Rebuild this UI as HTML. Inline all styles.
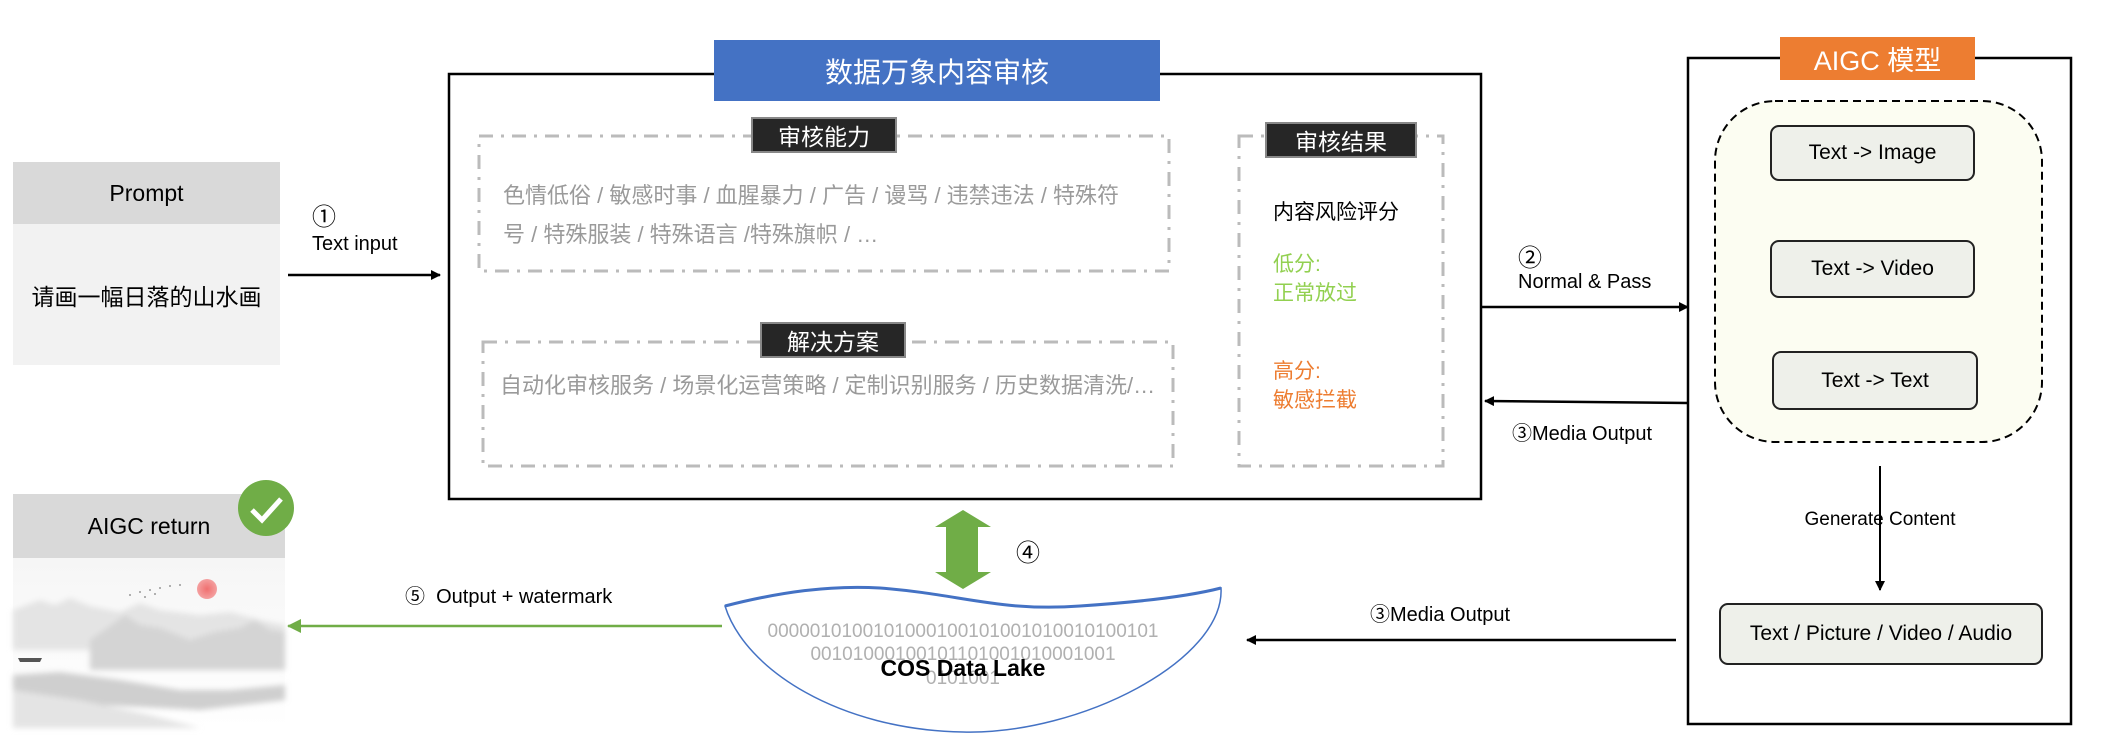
<!DOCTYPE html>
<html><head><meta charset="utf-8"><style>
body{margin:0;width:2102px;height:754px;background:#fff;position:relative;overflow:hidden;font-family:"Liberation Sans","Noto Sans CJK SC",sans-serif;}
.a{position:absolute;}
.c{position:absolute;display:flex;align-items:center;justify-content:center;text-align:center;}
.lbl{background:#262626;color:#fff;border:2px solid #888;font-size:23px;box-sizing:border-box;}
.gt{color:#9a9a9a;font-size:22px;}
.mb{background:#eef0ea;border:2px solid #222;border-radius:9px;font-size:21px;box-sizing:border-box;}
</style></head><body>
<svg class="a" style="left:0;top:0" width="2102" height="754">
<defs>
<marker id="ak" markerWidth="10" markerHeight="10" refX="9" refY="5" orient="auto" markerUnits="userSpaceOnUse"><path d="M0,0 L10,5 L0,10z" fill="#000"/></marker>
<marker id="ag" markerWidth="14" markerHeight="14" refX="13" refY="7" orient="auto" markerUnits="userSpaceOnUse"><path d="M0,0 L14,7 L0,14z" fill="#70ad47"/></marker>
<radialGradient id="sun"><stop offset="0" stop-color="#f07070"/><stop offset="1" stop-color="#f4a0a0"/></radialGradient>
<linearGradient id="fog" x1="0" y1="0" x2="0" y2="1"><stop offset="0" stop-color="#f6f6f6"/><stop offset="1" stop-color="#fff"/></linearGradient>
<filter id="bl"><feGaussianBlur stdDeviation="3"/></filter>
</defs>
<rect x="449" y="74" width="1032" height="425" fill="none" stroke="#000" stroke-width="2.5"/>
<rect x="479" y="136" width="690" height="135" fill="none" stroke="#bbb" stroke-width="3" stroke-dasharray="14 8 3 8"/>
<rect x="483" y="342" width="690" height="124" fill="none" stroke="#bbb" stroke-width="3" stroke-dasharray="14 8 3 8"/>
<rect x="1239" y="136" width="204" height="330" fill="none" stroke="#bbb" stroke-width="3" stroke-dasharray="14 8 3 8"/>
<rect x="1688" y="58" width="383" height="666" fill="none" stroke="#000" stroke-width="2.5"/>
<rect x="1715" y="101" width="327" height="341" rx="60" fill="#fcfdf2" stroke="#000" stroke-width="2" stroke-dasharray="8 5"/>
<line x1="288" y1="275" x2="440" y2="275" stroke="#000" stroke-width="2.5" marker-end="url(#ak)"/>
<line x1="1481" y1="307" x2="1688" y2="307" stroke="#000" stroke-width="2.5" marker-end="url(#ak)"/>
<line x1="1688" y1="403" x2="1485" y2="401" stroke="#000" stroke-width="2.5" marker-end="url(#ak)"/>
<line x1="1880" y1="466" x2="1880" y2="590" stroke="#000" stroke-width="2" marker-end="url(#ak)"/>
<line x1="1676" y1="640" x2="1247" y2="640" stroke="#000" stroke-width="2.5" marker-end="url(#ak)"/>
<line x1="722" y1="626" x2="288" y2="626" stroke="#70ad47" stroke-width="2.5" marker-end="url(#ag)"/>
<path d="M963,510 L991,527 L978,527 L978,572 L991,572 L963,589 L935,572 L946,572 L946,527 L935,527z" fill="#70ad47"/>
<path d="M725,606 C780,592 830,585 880,588 C960,594 1000,612 1080,606 C1140,602 1190,596 1221,588 C1225,660 1080,735 963,732 C840,730 745,670 725,606z" fill="#fff" stroke="#4472c4" stroke-width="1.5"/>
<path d="M725,606 C780,592 830,585 880,588 C960,594 1000,612 1080,606 C1140,602 1190,596 1221,588" fill="none" stroke="#4472c4" stroke-width="3"/>
<rect x="13" y="558" width="272" height="170" fill="url(#fog)"/>
<g filter="url(#bl)">
<path d="M13,610 L40,600 L55,605 L70,598 L90,606 L120,612 L140,603 L160,610 L200,615 L230,612 L260,620 L285,625 L285,650 L13,650z" fill="#e4e4e4"/>
<path d="M90,640 L110,626 L125,615 L140,625 L160,628 L190,640 L215,632 L240,628 L255,620 L270,630 L285,632 L285,670 L90,670z" fill="#d4d4d4"/>
<path d="M13,675 L60,672 L120,680 L180,690 L230,690 L285,685 L285,700 L200,710 L100,705 L13,700z" fill="#cfcfcf"/>
<path d="M13,690 L80,700 L150,715 L200,728 L13,728z" fill="#e4e4e4"/>
</g>
<circle cx="207" cy="589" r="10" fill="url(#sun)"/>
<path d="M18,658 L42,658 L40,662 L20,662z" fill="#555"/>
<g fill="#999"><circle cx="130" cy="595" r="1"/><circle cx="140" cy="592" r="1"/><circle cx="150" cy="590" r="1"/><circle cx="160" cy="588" r="1"/><circle cx="170" cy="586" r="1"/><circle cx="180" cy="585" r="1"/><circle cx="145" cy="597" r="1"/><circle cx="155" cy="594" r="1"/></g>
</svg>

<div class="c" style="left:13px;top:162px;width:267px;height:62px;background:#d9d9d9;font-size:23px;">Prompt</div>
<div class="c" style="left:13px;top:224px;width:267px;height:141px;background:#f2f2f2;font-size:23px;">请画一幅日落的山水画</div>
<div class="a" style="left:312px;top:197px;font-size:24px;">①</div>
<div class="a" style="left:312px;top:233px;font-size:20px;">Text input</div>

<div class="c" style="left:714px;top:40px;width:446px;height:61px;background:#4472c4;color:#fff;font-size:28px;">数据万象内容审核</div>
<div class="c lbl" style="left:751px;top:117px;width:146px;height:36px;">审核能力</div>
<div class="a gt" style="left:503px;top:176px;line-height:39px;width:650px;">色情低俗 / 敏感时事 / 血腥暴力 / 广告 / 谩骂 / 违禁违法 / 特殊符<br>号 / 特殊服装 / 特殊语言 /特殊旗帜 / …</div>
<div class="c lbl" style="left:760px;top:322px;width:146px;height:36px;">解决方案</div>
<div class="a gt" style="left:500px;top:368px;white-space:nowrap;">自动化审核服务 / 场景化运营策略 / 定制识别服务 / 历史数据清洗/…</div>
<div class="c lbl" style="left:1265px;top:122px;width:152px;height:36px;">审核结果</div>
<div class="a" style="left:1273px;top:196px;font-size:21px;">内容风险评分</div>
<div class="a" style="left:1273px;top:250px;font-size:21px;color:#92d050;line-height:29px;">低分:<br>正常放过</div>
<div class="a" style="left:1273px;top:357px;font-size:21px;color:#ed7d31;line-height:29px;">高分:<br>敏感拦截</div>

<div class="a" style="left:1518px;top:238px;font-size:24px;">②</div>
<div class="a" style="left:1518px;top:271px;font-size:20px;">Normal &amp; Pass</div>
<div class="a" style="left:1512px;top:417px;font-size:20px;">③Media Output</div>

<div class="c" style="left:1780px;top:37px;width:195px;height:43px;background:#ed7d31;color:#fff;font-size:27px;">AIGC 模型</div>
<div class="c mb" style="left:1770px;top:125px;width:205px;height:56px;">Text -&gt; Image</div>
<div class="c mb" style="left:1770px;top:240px;width:205px;height:58px;">Text -&gt; Video</div>
<div class="c mb" style="left:1772px;top:351px;width:206px;height:59px;">Text -&gt; Text</div>
<div class="c" style="left:1780px;top:507px;width:200px;height:26px;font-size:19px;">Generate Content</div>
<div class="c mb" style="left:1719px;top:603px;width:324px;height:62px;">Text / Picture / Video / Audio</div>
<div class="a" style="left:1370px;top:598px;font-size:20px;">③Media Output</div>

<div class="a" style="left:1016px;top:533px;font-size:24px;">④</div>
<div class="a" style="left:405px;top:580px;font-size:20px;">⑤&nbsp;&nbsp;Output + watermark</div>

<div class="c" style="left:13px;top:494px;width:272px;height:64px;background:#d9d9d9;font-size:23px;">AIGC return</div>
<svg class="a" style="left:236px;top:478px" width="60" height="60"><circle cx="30" cy="30" r="28" fill="#70ad47"/><path d="M16,32 L26,42 L45,21" fill="none" stroke="#fff" stroke-width="5"/></svg>

<div class="c" style="left:763px;top:620px;width:400px;height:24px;font-size:19px;color:#b0b0b0;">0000010100101000100101001010010100101</div>
<div class="c" style="left:763px;top:643px;width:400px;height:24px;font-size:19px;color:#b0b0b0;">00101000100101101001010001001</div>
<div class="c" style="left:763px;top:667px;width:400px;height:24px;font-size:19px;color:#b0b0b0;">0101001</div>
<div class="c" style="left:763px;top:654px;width:400px;height:28px;font-size:23px;font-weight:bold;">COS Data Lake</div>
</body></html>
